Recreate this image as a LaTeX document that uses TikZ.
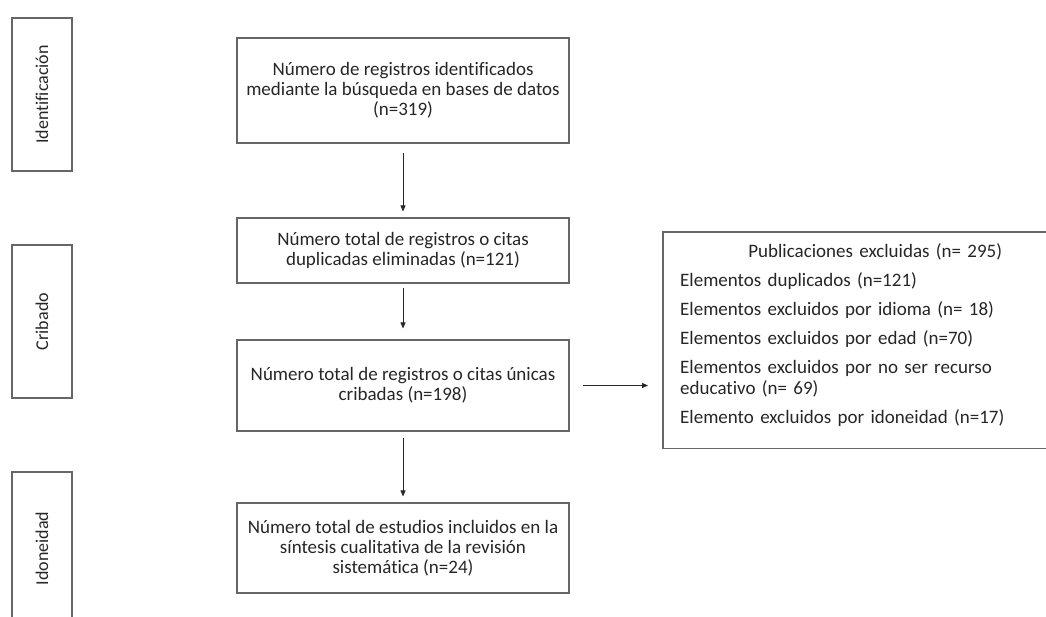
\documentclass[tikz,border=0pt]{standalone}
\usepackage{fontspec}
\setmainfont{Carlito}[Ligatures=NoCommon]
\usetikzlibrary{arrows.meta}
\begin{document}
\begin{tikzpicture}[x=1pt,y=-1pt,
  box/.style={draw=black!60, line width=1.1pt, minimum width=332pt, inner sep=0pt,
    align=center, text=black!85, font=\fontsize{19}{20}\selectfont},
  phase/.style={draw=black!60, line width=1.1pt, rotate=90, minimum width=153pt,
    minimum height=60pt, inner sep=0pt, text=black!85, font=\fontsize{18}{20}\selectfont},
  arr/.style={-{Triangle[length=6pt,width=5pt]}, line width=0.8pt, black!85}]
\useasboundingbox (0,0) rectangle (1046,616);

% phase labels
\node[phase] (p1) at (42,94.5) {Identificación};
\node[phase] (p2) at (42,321.5) {Cribado};
\node[phase] (p3) at (42,548.5) {Idoneidad};

% main flow
\node[box, minimum height=105pt] (b1) at (403,90.5)
  {Número de registros identificados\\mediante la búsqueda en bases de datos\\(n=319)};
\node[box, minimum height=65pt] (b2) at (403,250.5)
  {Número total de registros o citas\\duplicadas eliminadas (n=121)};
\node[box, minimum height=91pt] (b3) at (403,385.5)
  {Número total de registros o citas únicas\\cribadas (n=198)};
\node[box, minimum height=90pt] (b4) at (403,548)
  {Número total de estudios incluidos en la\\síntesis cualitativa de la revisión\\sistemática (n=24)};

% excluded box (its right side runs past the edge of the picture)
\node[minimum width=424pt, minimum height=216pt, inner sep=0pt, anchor=north west]
  (excl) at (663,232) {};
\draw[draw=black!60, line width=1.1pt]
  (excl.north east) -- (excl.north west) -- (excl.south west) -- (excl.south east);
\node[anchor=north west, text width=390pt, inner sep=0pt, align=left,
  font=\fontsize{19}{21}\selectfont, text=black!85] (exclt) at (680,243)
  {\makebox[390pt][c]{Publicaciones excluidas (n= 295)}\\[8pt]
   Elementos duplicados (n=121)\\[8pt]
   Elementos excluidos por idioma (n= 18)\\[8pt]
   Elementos excluidos por edad (n=70)\\[8pt]
   Elementos excluidos por no ser recurso\\
   educativo (n= 69)\\[8pt]
   Elemento excluidos por idoneidad (n=17)};

% arrows
\draw[arr, shorten <=9pt, shorten >=6pt] (b1) -- (b2);
\draw[arr, shorten <=4pt, shorten >=11pt] (b2) -- (b3);
\draw[arr, shorten <=6pt, shorten >=6pt] (b3) -- (b4);
\draw[arr, shorten <=13pt, shorten >=15pt] (b3.east) -- (b3.east -| excl.west);
\end{tikzpicture}
\end{document}
